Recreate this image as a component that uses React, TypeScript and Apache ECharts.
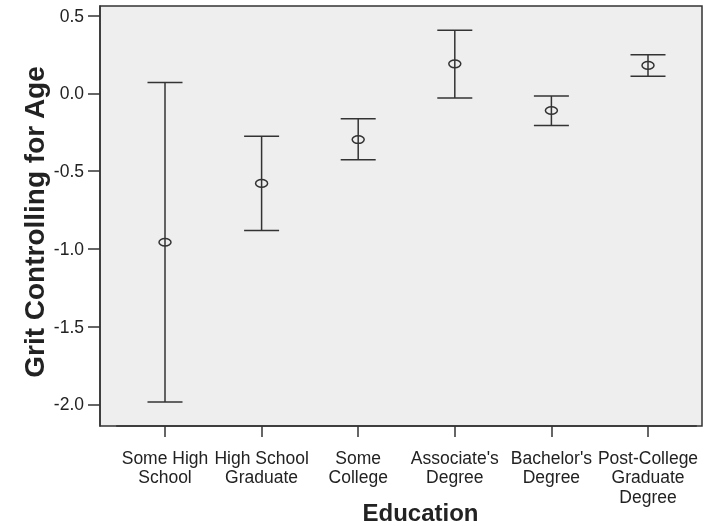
import React, { useEffect, useRef } from 'react';
import * as echarts from 'echarts';

const categories = [
  'Some High\nSchool',
  'High School\nGraduate',
  'Some\nCollege',
  "Associate's\nDegree",
  "Bachelor's\nDegree",
  'Post-College\nGraduate\nDegree',
];
const means = [-0.957, -0.579, -0.297, 0.19, -0.11, 0.18];
const lowers = [-1.985, -0.881, -0.427, -0.029, -0.207, 0.11];
const uppers = [0.07, -0.276, -0.163, 0.406, -0.017, 0.248];
const yTicks = [-2.0, -1.5, -1.0, -0.5, 0.0, 0.5];
const yMin = -2.139;
const yMax = 0.562;

export default function App() {
  const ref = useRef<HTMLDivElement>(null);
  useEffect(() => {
    const chart = echarts.init(ref.current!, null, { renderer: 'svg' });
    const ink = '#333333';
    const font = 'Arial, "Liberation Sans", Helvetica, sans-serif';
    const renderItem = (params: any, api: any) => {
      const i = api.value(0);
      const m = api.coord([i, api.value(1)]);
      const lo = api.coord([i, api.value(2)]);
      const hi = api.coord([i, api.value(3)]);
      const half = 17.5;
      const st = { stroke: ink, lineWidth: 1.5, fill: 'none' };
      return {
        type: 'group',
        children: [
          { type: 'line', shape: { x1: hi[0], y1: hi[1], x2: lo[0], y2: lo[1] }, style: st },
          { type: 'line', shape: { x1: hi[0] - half, y1: hi[1], x2: hi[0] + half, y2: hi[1] }, style: st },
          { type: 'line', shape: { x1: lo[0] - half, y1: lo[1], x2: lo[0] + half, y2: lo[1] }, style: st },
          { type: 'ellipse', shape: { cx: m[0], cy: m[1], rx: 6, ry: 3.8 }, style: st },
        ],
      };
    };
    chart.setOption({
      animation: false,
      textStyle: { fontFamily: font },
      grid: [
        { left: 100, top: 6, width: 602, height: 420, show: true, backgroundColor: '#eeeeee', borderColor: ink, borderWidth: 1.5, containLabel: false, outerBoundsMode: 'none' },
        { left: 116.7, top: 6, width: 579.6, height: 420, containLabel: false, outerBoundsMode: 'none' },
      ],
      xAxis: [
        { gridIndex: 0, type: 'value', show: false, min: 0, max: 1 },
        {
          gridIndex: 1,
          type: 'category',
          data: categories,
          boundaryGap: true,
          position: 'bottom',
          axisLine: { show: true, onZero: false, lineStyle: { color: ink, width: 1.5 } },
          axisTick: { show: true, alignWithLabel: true, length: 11, lineStyle: { color: ink, width: 1.5 } },
          axisLabel: { interval: 0, margin: 22, fontSize: 17.5, lineHeight: 19.5, color: '#222222', fontFamily: font },
          name: 'Education',
          nameLocation: 'middle',
          nameGap: 74,
          nameMoveOverlap: false,
          nameTextStyle: { fontSize: 24, fontWeight: 'bold', color: '#222222', fontFamily: font, padding: [0, 0, 0, 28] },
        },
      ],
      yAxis: [
        {
          gridIndex: 0,
          type: 'value',
          min: yMin,
          max: yMax,
          axisLine: { show: true, lineStyle: { color: ink, width: 1.5 } },
          axisTick: { show: true, length: 12, customValues: yTicks, lineStyle: { color: ink, width: 1.5 } },
          axisLabel: {
            customValues: yTicks,
            formatter: (v: number) => v.toFixed(1),
            margin: 16,
            fontSize: 17.5,
            color: '#222222',
            fontFamily: font,
          },
          splitLine: { show: false },
          name: 'Grit Controlling for Age',
          nameLocation: 'middle',
          nameGap: 52,
          nameMoveOverlap: false,
          nameTextStyle: { fontSize: 28, fontWeight: 'bold', color: '#222222', fontFamily: font, padding: [0, 12, 0, 0] },
        },
        { gridIndex: 1, type: 'value', min: yMin, max: yMax, show: false, splitLine: { show: false } },
      ],
      series: [
        {
          type: 'custom',
          xAxisIndex: 1,
          yAxisIndex: 1,
          renderItem,
          data: categories.map((_, i) => [i, means[i], lowers[i], uppers[i]]),
        },
      ],
    });
    return () => chart.dispose();
  }, []);
  return <div ref={ref} style={{ position: 'fixed', left: 0, top: 0, width: 705, height: 526 }} />;
}
